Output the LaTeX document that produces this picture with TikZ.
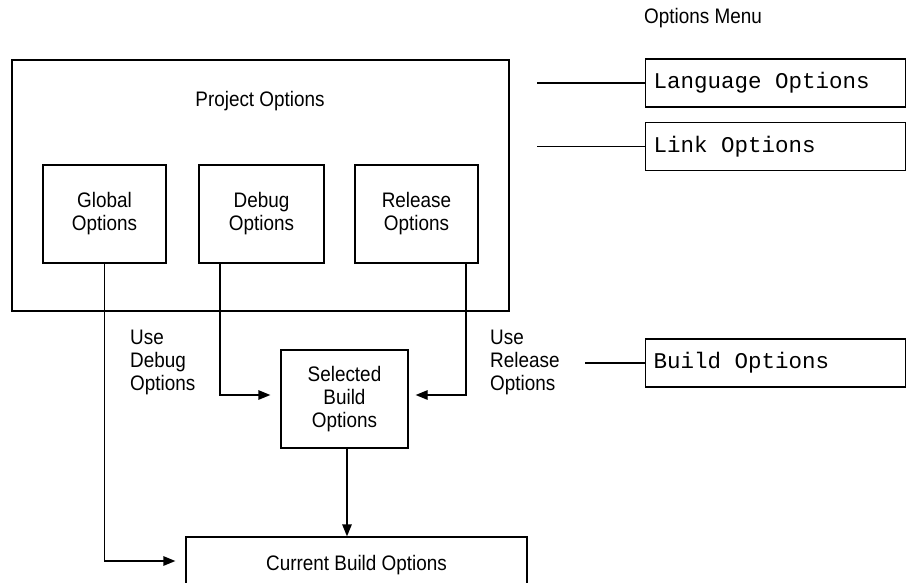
\documentclass[tikz,border=0pt]{standalone}
\usepackage{fontspec}
\setmainfont[FakeStretch=0.9]{Liberation Sans}
\newfontfamily\codefont{Liberation Mono}
\newcommand\csp{\hspace{0.6em}}
\usetikzlibrary{arrows.meta}
\begin{document}
\begin{tikzpicture}[x=1pt,y=-1pt,
  lbl/.style={font=\fontsize{21}{23}\selectfont, align=center, inner sep=0pt},
  boxn/.style={draw, line width=1.3pt, inner sep=0pt, font=\fontsize{21}{23}\selectfont, align=center},
  codebox/.style={draw, line width=1.3pt, inner sep=0pt, anchor=west, text width=260pt, minimum height=48pt, font=\codefont\fontsize{22.5}{26}\selectfont},
  conn/.style={line width=1.3pt},
  arr/.style={line width=1.3pt, -{Triangle[length=12pt,width=9.5pt]}}]
\useasboundingbox (0,0) rectangle (906,582);
\clip (0,0) rectangle (906,582);
% Project options frame
\node[boxn, minimum width=497pt, minimum height=251pt] (proj) at (260.5,185.5) {};
\node[lbl] (projt) at (260,101) {Project Options};
\node[boxn, minimum width=123pt, minimum height=98pt] (global) at (104.5,214) {Global\\Options};
\node[boxn, minimum width=125pt, minimum height=98pt] (debug) at (261.5,214) {Debug\\Options};
\node[boxn, minimum width=123pt, minimum height=98pt] (release) at (416.5,214) {Release\\Options};
\node[boxn, minimum width=127pt, minimum height=98pt] (sel) at (344.5,399) {Selected\\Build\\Options};
\node[boxn, minimum width=341pt, minimum height=56pt] (cur) at (356.5,565) {Current Build Options};
% labels
\node[lbl, align=left, anchor=west] (usedebug) at (130,362) {Use\\Debug\\Options};
\node[lbl, align=left, anchor=west] (userel) at (490,362) {Use\\Release\\Options};
\node[lbl] (menu) at (703,18) {Options Menu};
% menu boxes
\node[codebox] (lang) at (645,83) {\hspace*{8pt}Language\csp Options};
\node[codebox] (link) at (645,146.5) {\hspace*{8pt}Link\csp Options};
\node[codebox] (build) at (645,363) {\hspace*{8pt}Build\csp Options};
\coordinate (langl) at (537,83);
\coordinate (linkl) at (537,146.5);
\coordinate (buildl) at (585,363);
\draw[conn] (langl) -- (lang.west);
\draw[conn] (linkl) -- (link.west);
\draw[conn] (buildl) -- (build.west);
% connectors
\coordinate (dbgdown) at (220,263);
\coordinate (reldown) at (466,263);
\coordinate (seldown) at (347,448);
\draw[arr, shorten >=10pt] (global.south) |- (cur.west |- 0,561);
\draw[arr, shorten >=10pt] (dbgdown) |- (sel.west |- 0,395);
\draw[arr, shorten >=7pt] (reldown) |- (sel.east |- 0,395);
\draw[arr] (seldown) -- (seldown |- cur.north);
\end{tikzpicture}
\end{document}
